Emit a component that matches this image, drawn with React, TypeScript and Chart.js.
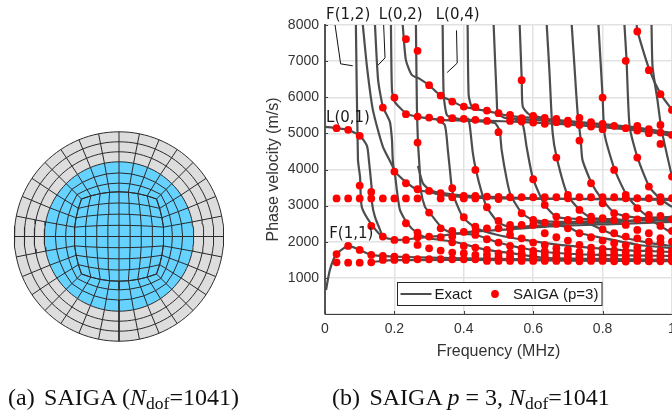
import React, { useEffect, useRef } from "react";
import { Chart, registerables } from "chart.js";

Chart.register(...registerables);

type Pair = [number, number];

const mode01: Pair[] = [[.089,8000],[.095,4266],[.101,3795],[.106,2964],[.135,2465],[.167,2133],[.216,2050],[.273,2105],[.331,2161],[.417,2271],[.504,2327],[.676,2438],[.849,2493],[1,2548]];
const mode02: Pair[] = [[.109,8000],[.121,6842],[.138,5651],[.167,4626],[.199,3989],[.207,3435],[.216,2881],[.236,2521],[.265,2244],[.296,2105],[.374,1994],[.466,1773],[.532,1690],[.633,1551],[.791,1524],[1,1496]];
const mode03: Pair[] = [[.144,8000],[.153,6482],[.167,5734],[.187,5318],[.193,4820],[.199,3989],[.236,3629],[.268,3435],[.302,3379],[.334,3296],[.446,3213],[.676,3186],[1,3186]];
const mode04: Pair[] = [[.19,8000],[.193,6205],[.201,5872],[.236,5540],[.268,5457],[.334,5374],[.417,5346],[.489,5291],[.498,5180],[.504,5041],[.509,4543],[.524,3712],[.535,3296],[.567,2798],[.599,2604],[.676,2548],[.849,2576],[1,2604]];
const mode05: Pair[] = [[.224,8000],[.233,7036],[.25,6620],[.273,6510],[.302,6316],[.334,6039],[.365,5900],[.4,5734],[.466,5623],[.532,5485],[.633,5402],[.791,5263],[.906,5152],[1,4986]];
const mode06: Pair[] = [[.262,8000],[.265,5651],[.268,4737],[.273,3989],[.276,3435],[.288,2964],[.302,2798],[.337,2382],[.365,2244],[.435,2188],[.504,1967],[.567,1828],[.633,1717],[.791,1634],[1,1607]];
const mode07: Pair[] = [[.268,4100],[.282,3620],[.302,3435],[.334,3352],[.417,3269],[.676,3186],[1,3158]];
const mode08: Pair[] = [[.339,8000],[.342,6066],[.351,5512],[.368,5429],[.417,5374],[.561,5318],[.676,5263],[.791,5180],[.935,5041],[1,4931]];
const mode09: Pair[] = [[.319,5402],[.345,5235],[.354,4543],[.36,3989],[.368,3352],[.397,2687],[.435,2382],[.498,2188],[.576,2050],[.676,1911],[.849,1773],[1,1717]];
const mode10: Pair[] = [[.411,8000],[.414,6066],[.423,5734],[.446,5651]];
const mode11: Pair[] = [[.412,5429],[.417,5235],[.426,4460],[.435,3989],[.452,3352],[.466,2964],[.498,2548],[.532,2410],[.676,2493],[.849,2548],[1,2687]];
const mode12: Pair[] = [[.486,8000],[.495,5928],[.498,5568],[.518,5429],[.647,5346],[.791,5235],[.935,5097],[1,5014]];
const mode13: Pair[] = [[.561,8000],[.567,6482],[.57,5734],[.59,5512],[.633,5429]];
const mode14: Pair[] = [[.547,5374],[.57,5235],[.581,4626],[.599,3767],[.633,3019],[.668,2687],[.734,2632],[.849,2604]];
const mode15: Pair[] = [[.639,8000],[.647,6676],[.656,5014],[.668,4321],[.699,3296],[.734,2881],[.768,2659],[.869,2604]];
const mode16: Pair[] = [[.711,8000],[.719,6842],[.728,5568],[.737,4820],[.742,4266],[.768,3629],[.8,3158],[.835,2798],[.906,2659],[1,2687]];
const mode17: Pair[] = [[.788,8000],[.8,6011],[.806,4958],[.835,3989],[.869,3296],[.901,2936],[.935,2687],[1,2632]];
const mode18: Pair[] = [[.863,8000],[.869,7036],[.878,5180],[.901,4321],[.935,3518],[.97,3158],[1,2964]];
const mode19: Pair[] = [[.898,8000],[.901,7811],[.935,6759],[.967,6094],[1,5651]];
const mode20: Pair[] = [[.941,8000],[.944,6842],[.958,5928],[.97,5097],[1,3795]];
const mode21: Pair[] = [[.003,665],[.014,1219],[.033,1660],[.067,1884],[.1,1773],[.133,1635],[.167,1607],[.2,1588],[.27,1570],[.4,1540],[.6,1510],[.8,1490],[1,1480]];
const mode22: Pair[] = [[.133,1440],[.2,1490],[.4,1500],[.7,1480],[1,1460]];
const mode23: Pair[] = [[.599,2548],[.699,2410],[.734,2244],[.8,2105],[.906,1911],[1,1828]];
const mode24: Pair[] = [[.935,2632],[.97,2410],[1,2244]];
const mode25: Pair[] = [[.763,2493],[.835,2188],[.935,1967],[1,1884]];
const mode26: Pair[] = [[0,5180],[.033,5144],[.066,5097],[.101,4931],[.121,4654],[.127,4210],[.135,3407],[.135,3102],[.144,2687],[.167,2133]];
const exactModes: Pair[][] = [mode01,mode02,mode03,mode04,mode05,mode06,mode07,mode08,mode09,mode10,mode11,mode12,mode13,mode14,mode15,mode16,mode17,mode18,mode19,mode20,mode21,mode22,mode23,mode24,mode25,mode26];

const saigaFreq = [.0333,.0667,.1,.1333,.1667,.2,.2333,.2667,.3,.3333,.3667,.4,.4333,.4667,.5,.5333,.5667,.6,.6333,.6667,.7,.7333,.7667,.8,.8333,.8667,.9,.9333,.9667,1];
const saigaVel: number[][] = [
  [5144,3200,1660,1431],
  [5097,3200,1884,1422],
  [4931,3555,3200,1773,1422],
  [3380,3200,2438,1635,1431],
  [5715,3200,2142,1607,1496],
  [5992,3943,3200,2050,1588,1496],
  [7609,5532,3620,3200,2512,2050,1570,1496],
  [7285,5465,4745,3453,3200,2253,2124,1912,1515],
  [6335,5437,3407,2807,2142,1819,1515],
  [6047,5374,3343,3200,2373,2124,1755,1515],
  [5881,5421,3481,3232,2300,2142,1985,1699,1515],
  [5742,5402,3269,3200,2678,2272,1884,1681,1515],
  [5726,5374,3989,3269,3200,2420,2281,2188,1838,1635,1515],
  [5631,5346,3250,2955,2373,2069,1773,1640,1530,1470],
  [5559,5033,3240,3180,2576,2373,1976,1680,1580,1520,1470],
  [5512,5346,3232,2466,2360,2189,1884,1690,1590,1520,1470],
  [6473,5421,5327,3232,2789,2466,2096,1819,1680,1590,1520,1470],
  [5485,5299,3730,3232,2604,2466,1976,1750,1650,1570,1510,1470],
  [5429,5263,3232,3020,2530,2235,1912,1740,1640,1560,1500,1470],
  [5402,5310,4330,3232,2696,2493,2124,1820,1690,1600,1520,1470],
  [5354,5263,3297,3204,2604,2373,2032,1780,1660,1580,1510,1470],
  [5429,5235,4802,3232,2881,2604,2235,1912,1720,1620,1550,1500,1460],
  [5310,5188,3620,3232,2696,2604,2124,1840,1700,1600,1530,1470],
  [5992,5263,5116,3232,3066,2650,2345,2032,1800,1680,1590,1520,1470],
  [5208,3989,3232,2789,2600,2235,1958,1760,1650,1570,1500,1460],
  [7008,5144,3300,3204,2696,2466,2143,1900,1730,1620,1540,1480,1450],
  [7820,5208,5077,4330,3204,2927,2620,2327,2096,1840,1700,1600,1530,1470],
  [6750,5116,5005,3527,3204,2740,2620,2235,2004,1770,1650,1570,1500,1460],
  [6085,5235,5023,4709,3232,3112,2715,2438,2100,1976,1750,1640,1560,1490,1460],
  [5650,4958,3804,3204,2620,2300,2000,1750,1640,1560,1490,1460],
];

const leaderF12: Pair[] = [[.029,8000],[.045,6925],[.08,6870]];
const leaderL02: Pair[] = [[.169,8000],[.173,7090],[.152,6880]];
const leaderL04: Pair[] = [[.379,7850],[.381,6945],[.352,6685]];
const modeLabels = ["F(1,2)", "L(0,2)", "L(0,4)", "L(0,1)", "F(1,1)"];
const modeLabelFreq = [.003, .155, .319, .003, .012];
const modeLabelVel = [8280, 8280, 8280, 5430, 2216];

const xTicks = [0, .2, .4, .6, .8, 1];
const yTicks = [1000, 2000, 3000, 4000, 5000, 6000, 7000, 8000];

// Mesh of the circular section, in canvas-sized units about the centre.
const ringRadiiGrey = [104.7, 94.7, 84.7, 74.7];
const blueRingFractions = [0, 0.29, 0.63, 1];
const blueRadius = 74.7;
const coreHalfWidth = 44.7;
const coreCornerInset = 7.2;
const sectorsPerEdge = 8;

const GREY = "#4d4d4d";
const FONT = "'Liberation Sans', Arial, sans-serif";

function buildMeshLines(): Pair[][] {
  const lines: Pair[][] = [];
  const core = (u: number, v: number): Pair => [
    u * (coreHalfWidth - coreCornerInset * v * v),
    v * (coreHalfWidth - coreCornerInset * u * u),
  ];
  const perimeter: Pair[] = [];
  const steps = sectorsPerEdge;
  for (let i = 0; i < steps; i++) perimeter.push(core(1, -1 + (2 * i) / steps));
  for (let i = 0; i < steps; i++) perimeter.push(core(1 - (2 * i) / steps, 1));
  for (let i = 0; i < steps; i++) perimeter.push(core(-1, 1 - (2 * i) / steps));
  for (let i = 0; i < steps; i++) perimeter.push(core(-1 + (2 * i) / steps, -1));
  const n = perimeter.length;
  const at = (k: number, r: number): Pair => {
    const th = -Math.PI / 4 + (k * 2 * Math.PI) / n;
    return [r * Math.cos(th), r * Math.sin(th)];
  };
  for (let k = 0; k < n; k++) {
    const rad: Pair[] = [];
    const b = perimeter[k];
    const c = at(k, blueRadius);
    for (const t of blueRingFractions) rad.push([b[0] * (1 - t) + c[0] * t, b[1] * (1 - t) + c[1] * t]);
    rad.push(at(k, ringRadiiGrey[0]));
    lines.push(rad);
  }
  for (const t of blueRingFractions.slice(0, 3)) {
    const ring: Pair[] = [];
    for (let k = 0; k <= n; k++) {
      const b = perimeter[k % n];
      const c = at(k % n, blueRadius);
      ring.push([b[0] * (1 - t) + c[0] * t, b[1] * (1 - t) + c[1] * t]);
    }
    lines.push(ring);
  }
  for (const r of ringRadiiGrey) {
    const ring: Pair[] = [];
    for (let k = 0; k <= 4 * n; k++) ring.push(at(k / 4, r));
    lines.push(ring);
  }
  for (let i = -steps / 2; i <= steps / 2; i++) {
    const a: Pair[] = [];
    const b: Pair[] = [];
    for (let j = -4; j <= 4; j++) {
      a.push(core((2 * i) / steps, j / 4));
      b.push(core(j / 4, (2 * i) / steps));
    }
    lines.push(a, b);
  }
  return lines;
}

const toXY = (p: Pair[]) => p.map(([x, y]) => ({ x, y }));

export default function App() {
  const meshRef = useRef<HTMLCanvasElement>(null);
  const plotRef = useRef<HTMLCanvasElement>(null);

  useEffect(() => {
    const meshChart = new Chart(meshRef.current!, {
      type: "scatter",
      data: {
        datasets: [
          ...buildMeshLines().map((l) => ({
            data: toXY(l), showLine: true, pointRadius: 0, borderColor: "#2b2b2b", borderWidth: 1, tension: 0, order: 1,
          })),
          { data: [{ x: 0, y: 0 }], pointRadius: blueRadius, pointBackgroundColor: "#66d2ff", pointBorderWidth: 0, clip: false, order: 2 },
          { data: [{ x: 0, y: 0 }], pointRadius: ringRadiiGrey[0], pointBackgroundColor: "#dddddd", pointBorderWidth: 0, clip: false, order: 3 },
        ] as any,
      },
      options: {
        responsive: false,
        animation: false,
        events: [],
        layout: { padding: 0, autoPadding: false },
        plugins: { legend: { display: false }, tooltip: { enabled: false }, title: { display: false } },
        scales: {
          x: { display: false, min: -119, max: 143 },
          y: { display: false, min: -175.5, max: 236.5 },
        },
      },
    });

    const overlay = {
      id: "overlay",
      afterDatasetsDraw(chart: any) {
        const { ctx, scales, chartArea } = chart;
        ctx.save();
        // inward ticks
        ctx.strokeStyle = "#404040";
        ctx.lineWidth = 1;
        ctx.beginPath();
        for (const t of xTicks) {
          const px = Math.round(scales.x.getPixelForValue(t)) + 0.5;
          ctx.moveTo(px, chartArea.bottom);
          ctx.lineTo(px, chartArea.bottom - 3);
        }
        for (const t of yTicks) {
          const py = Math.round(scales.y.getPixelForValue(t)) + 0.5;
          ctx.moveTo(chartArea.left, py);
          ctx.lineTo(chartArea.left + 3, py);
        }
        ctx.stroke();
        // mode labels
        ctx.font = "15px 'DejaVu Sans'";
        ctx.fillStyle = "#1a1a1a";
        ctx.textAlign = "left";
        ctx.textBaseline = "middle";
        modeLabels.forEach((s, i) => {
          ctx.fillText(s, scales.x.getPixelForValue(modeLabelFreq[i]), scales.y.getPixelForValue(modeLabelVel[i]));
        });
        // legend
        const lx = chartArea.left + 72, ly = chartArea.bottom - 32, lw = 204.5, lh = 23;
        ctx.fillStyle = "#fff";
        ctx.strokeStyle = "#262626";
        ctx.lineWidth = 1;
        ctx.fillRect(lx, ly, lw, lh);
        ctx.strokeRect(lx + 0.5, ly + 0.5, lw, lh);
        ctx.strokeStyle = GREY;
        ctx.lineWidth = 2;
        ctx.beginPath();
        ctx.moveTo(lx + 3.5, ly + 12);
        ctx.lineTo(lx + 34.5, ly + 12);
        ctx.stroke();
        ctx.fillStyle = "#1a1a1a";
        ctx.font = `15px ${FONT}`;
        ctx.fillText("Exact", lx + 37.5, ly + 12.5);
        ctx.fillStyle = "#ff0000";
        ctx.beginPath();
        ctx.arc(lx + 98, ly + 12, 3.9, 0, Math.PI * 2);
        ctx.fill();
        ctx.fillStyle = "#1a1a1a";
        ctx.fillText("SAIGA (p=3)", lx + 116, ly + 12.5);
        ctx.restore();
      },
    };

    const points: { x: number; y: number }[] = [];
    saigaFreq.forEach((f, i) => saigaVel[i].forEach((v) => points.push({ x: f, y: v })));

    const lineDs = (p: Pair[]) => ({
      label: "Exact", data: toXY(p), showLine: true, pointRadius: 0, borderColor: GREY, borderWidth: 2.2, tension: 0.2,
    });
    const leaderDs = (p: Pair[]) => ({
      label: "leader", data: toXY(p), showLine: true, pointRadius: 0, borderColor: "#111", borderWidth: 1, tension: 0,
    });

    const plotChart = new Chart(plotRef.current!, {
      type: "scatter",
      data: {
        datasets: [
          { label: "SAIGA (p=3)", data: points, pointRadius: 3.9, pointBackgroundColor: "#ff0000", pointBorderWidth: 0, showLine: false, clip: false },
          ...exactModes.map(lineDs),
          ...[leaderF12, leaderL02, leaderL04].map(leaderDs),
        ] as any,
      },
      options: {
        responsive: false,
        animation: false,
        events: [],
        layout: { padding: { top: 25, left: 0, right: 0, bottom: 0 }, autoPadding: false },
        plugins: { legend: { display: false }, tooltip: { enabled: false }, title: { display: false } },
        scales: {
          x: {
            type: "linear",
            min: 0,
            max: 1,
            afterFit(s: any) { s.height = 98; s.paddingLeft = 0; s.paddingRight = 0; },
            ticks: {
              stepSize: 0.2, color: "#333", font: { family: FONT, size: 14 }, maxRotation: 0, padding: 7,
              callback: (v: any) => String(Math.round(v * 10) / 10),
            },
            grid: { color: "#e2e2e2", lineWidth: 1.5, drawTicks: false },
            border: { color: "#404040", width: 1 },
            title: { display: true, text: "Frequency (MHz)", color: "#333", font: { family: FONT, size: 16 }, padding: { top: 0, bottom: 51 } },
          },
          y: {
            type: "linear",
            min: 0,
            max: 8000,
            afterFit(s: any) { s.width = 63; s.paddingTop = 0; s.paddingBottom = 0; },
            ticks: {
              stepSize: 1000, color: "#333", font: { family: FONT, size: 14 }, padding: 6,
              callback: (v: any) => (v === 0 ? "" : String(v)),
            },
            grid: { color: "#e2e2e2", lineWidth: 1.5, drawTicks: false },
            border: { color: "#555", width: 2 },
            title: { display: true, text: "Phase velocity (m/s)", color: "#333", font: { family: FONT, size: 16 }, padding: { top: 2, bottom: 0 } },
          },
        },
      },
      plugins: [overlay],
    } as any);

    return () => {
      meshChart.destroy();
      plotChart.destroy();
    };
  }, []);

  const cap: React.CSSProperties = {
    position: "absolute", top: 384, fontFamily: "'Liberation Serif', serif", fontSize: 24, lineHeight: "26px", color: "#111", whiteSpace: "pre",
  };
  const sub: React.CSSProperties = { fontSize: 17.5, verticalAlign: "-4px", lineHeight: 0 };
  const gap: React.CSSProperties = { marginLeft: 3.4 };

  return (
    <div style={{ position: "absolute", left: 0, top: 0, width: 672, height: 412, overflow: "hidden", background: "#fff" }}>
      <canvas ref={meshRef} width={262} height={412} style={{ position: "absolute", left: 0, top: 0 }} />
      <canvas ref={plotRef} width={410} height={412} style={{ position: "absolute", left: 262, top: 0 }} />
      <div style={{ ...cap, left: 8 }}>
        (a) <span style={gap}>SAIGA</span> (<i>N</i><span style={sub}>dof</span>=1041)
      </div>
      <div style={{ ...cap, left: 332 }}>
        (b) <span style={gap}>SAIGA</span> <i>p</i> = 3, <i>N</i><span style={sub}>dof</span>=1041
      </div>
    </div>
  );
}
